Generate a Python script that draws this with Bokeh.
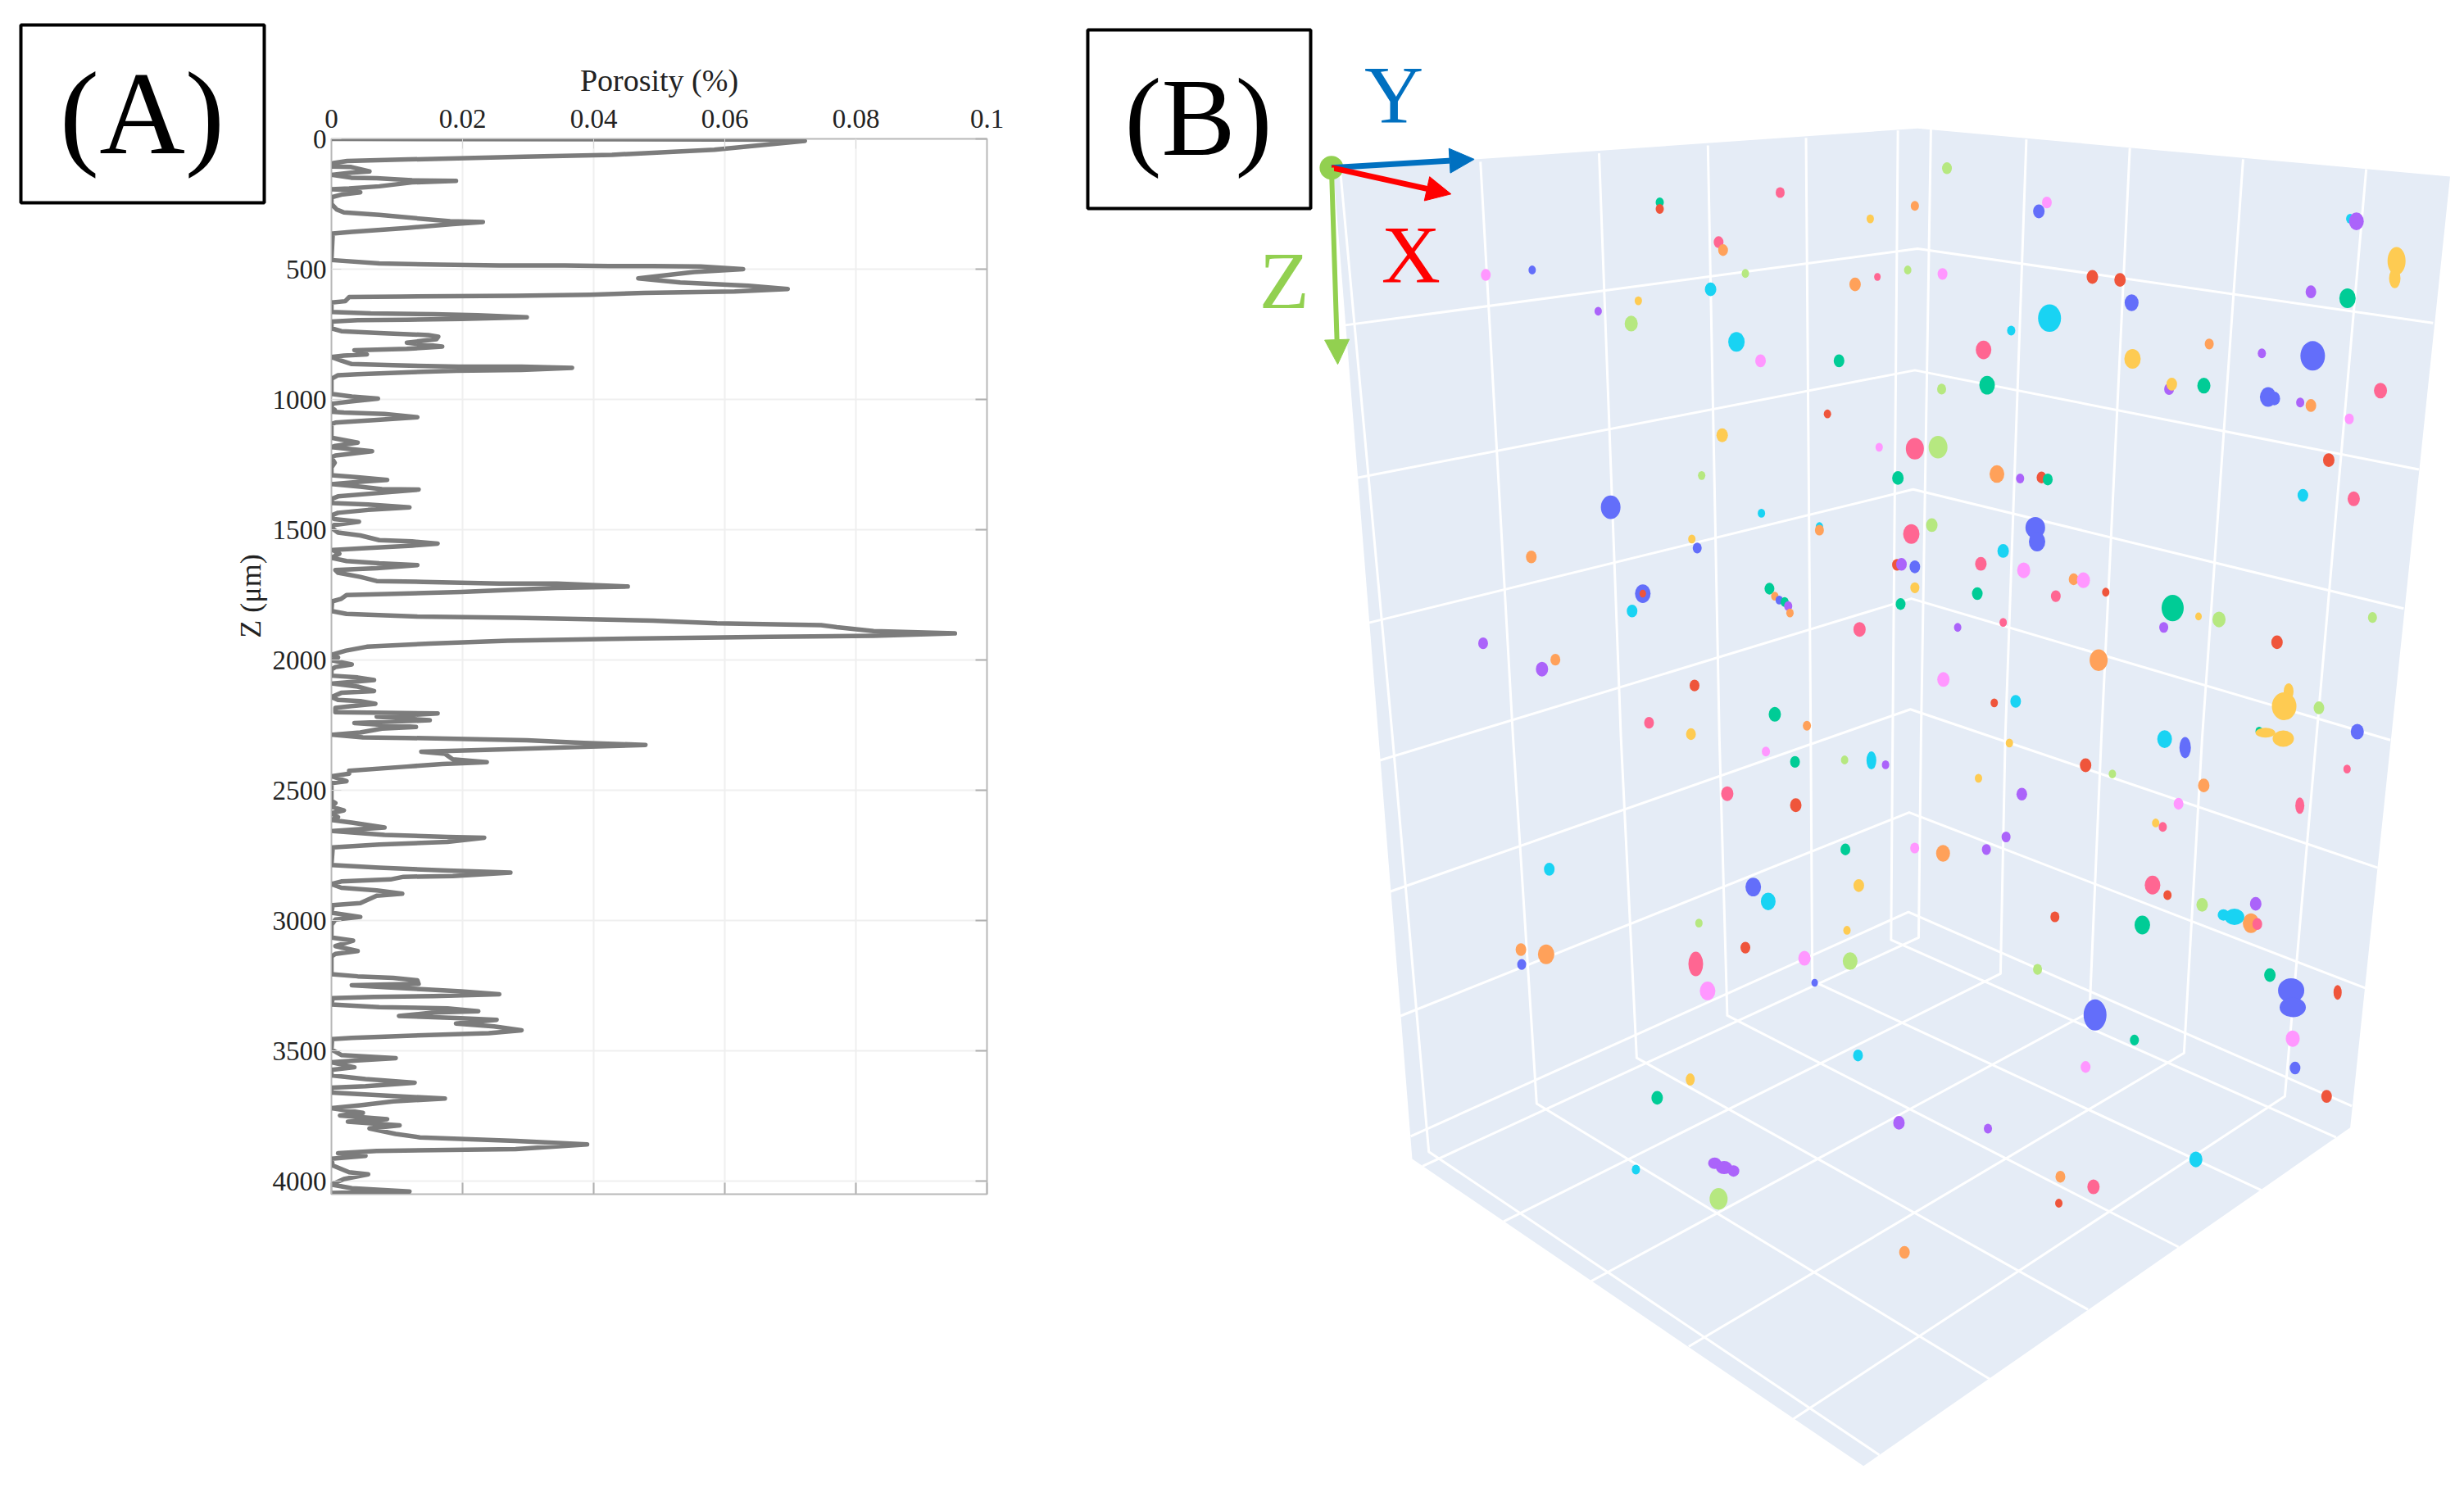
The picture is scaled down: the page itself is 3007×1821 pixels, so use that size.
import math
from bokeh.plotting import figure
from bokeh.layouts import row
from bokeh.models import (Range1d, LinearAxis, FixedTicker, Label, BoxAnnotation, Arrow, NormalHead)
from bokeh.embed import file_html
from bokeh.resources import INLINE

# ---------- Panel A data ----------
depth_um = [
 0,3,8,21,42,61,68,79,85,93,106,108,
 125,130,138,149,151,159,161,167,182,190,193,196,
 205,214,224,250,271,282,292,308,316,319,327,342,
 357,363,465,478,483,486,486,488,488,490,500,511,
 535,551,564,576,586,591,598,602,605,607,623,628,
 664,670,673,677,685,691,694,696,701,727,738,745,
 753,759,769,782,797,806,811,827,832,837,851,864,
 869,874,874,879,887,890,895,903,907,921,979,989,
 997,1008,1016,1031,1040,1047,1050,1056,1068,1079,1089,1094,
 1147,1166,1178,1183,1199,1215,1222,1243,1262,1291,1299,1309,
 1316,1325,1335,1344,1346,1358,1372,1382,1398,1403,1414,1424,
 1435,1445,1459,1469,1482,1493,1511,1522,1540,1545,1553,1561,
 1571,1578,1592,1608,1620,1629,1636,1648,1655,1665,1681,1697,
 1700,1707,1707,1718,1723,1739,1751,1765,1775,1812,1823,1833,
 1838,1844,1849,1859,1866,1874,1889,1898,1907,1911,1919,1926,
 1937,1949,1964,1980,1990,2001,2017,2027,2037,2060,2067,2077,
 2090,2102,2119,2126,2142,2153,2158,2168,2177,2184,2200,2205,
 2218,2231,2242,2257,2263,2278,2287,2297,2299,2308,2318,2326,
 2333,2343,2352,2360,2381,2392,2399,2409,2425,2436,2446,2465,
 2472,2540,2549,2563,2577,2588,2603,2614,2624,2643,2656,2671,
 2679,2682,2698,2708,2719,2787,2797,2808,2816,2829,2832,2842,
 2850,2860,2874,2884,2897,2905,2933,2941,2970,2986,2996,3017,
 3065,3077,3098,3117,3128,3138,3206,3214,3220,3229,3243,3248,
 3256,3264,3272,3283,3290,3293,3298,3322,3332,3337,3348,3353,
 3366,3374,3381,3395,3406,3421,3432,3442,3450,3455,3495,3516,
 3528,3537,3544,3563,3573,3594,3608,3622,3636,3641,3660,3673,
 3683,3694,3709,3720,3738,3748,3762,3772,3786,3798,3819,3832,
 3846,3859,3877,3884,3893,3903,3914,3940,3966,3974,3992,4013,
 4027,4040,4045,
]
porosity = [
 0,.072,.0722,.0667,.0584,.0428,.0294,.0117,.0024,.0003,0,.003,
 .0058,.003,0,.003,.0069,.0123,.019,.0123,.0073,.0027,0,.0027,
 .0044,.0015,0,0,.0008,.0019,.0073,.0144,.0181,.0231,.0185,.0115,
 .0031,.0002,0,.0073,.0165,.0256,.0356,.0423,.049,.0563,.0628,.0553,
 .0468,.0532,.0636,.0696,.0615,.0477,.0394,.0281,.0106,.0027,.0021,0,
 0,.006,.0156,.0223,.0298,.0198,.0115,.004,0,0,.0015,.0073,
 .0148,.0163,.016,.0115,.0169,.0115,.0035,.0054,.0019,0,.0015,.0031,
 .0094,.0194,.029,.0367,.029,.019,.0123,.004,.001,0,0,.0031,
 .0071,.0029,.0002,0,.0005,0,.0019,.0081,.0131,.0065,.0006,0,
 0,.004,.0006,0,.0062,.0006,0,.0005,0,0,.004,.0085,
 .0044,0,.0044,.0077,.0133,.0077,.001,0,.0002,.0056,.0119,.0056,
 .001,0,.0004,.0042,.0004,0,.001,.0044,.0073,.0123,.0162,.0123,
 .0052,.0002,.0012,0,.0023,.0073,.0131,.0069,.0006,.001,.0044,.0069,
 .014,.0256,.0344,.0452,.0344,.0198,.0023,.0015,.0001,0,.0023,.0131,
 .0281,.0406,.049,.0588,.0747,.0771,.0827,.0951,.0827,.0668,.0429,.0269,
 .015,.0054,.0022,0,.001,0,.0031,.0006,0,0,.004,.0065,
 .0002,.004,.0065,.0015,0,.001,.0044,.0067,.0031,.0006,.0006,.0162,
 .0069,.015,.0035,.0129,.0077,.0044,.0002,.0048,.0115,.0298,.0385,.0479,
 .0385,.0256,.0137,.0173,.0185,.0237,.0169,.0115,.0027,.0027,0,.0023,
 0,0,.0006,0,.0019,0,.001,0,.0031,.0081,.0002,.0081,
 .0177,.0233,.0177,.0073,.0002,0,.0073,.0177,.0273,.0185,.011,.009,
 .0015,0,.0015,.0069,.0108,.0069,.0044,.0002,0,.0044,.0006,0,
 0,.0033,.0006,.004,.0006,0,0,.004,.0094,.0131,.0133,.0031,
 .0085,.0142,.0198,.0256,.0156,.0065,.0002,0,.0073,.0177,.0224,.0156,
 .0103,.019,.0252,.019,.0248,.029,.024,.0115,.0031,.0001,0,.0015,
 .0098,.004,0,.0035,0,0,.0052,.0127,.0052,0,0,.009,
 .0173,.0094,.0044,0,.0048,.0013,.0085,.0025,.0104,.0058,.0098,.0135,
 .0281,.039,.0281,.0069,.001,.0052,0,.0002,.0027,.0056,.0019,0,
 .0031,.0119,0,
]
x_ticks = [0, 0.02, 0.04, 0.06, 0.08, 0.1]
x_tick_labels = ["0", "0.02", "0.04", "0.06", "0.08", "0.1"]
y_ticks = [0, 500, 1000, 1500, 2000, 2500, 3000, 3500, 4000]
x_title = "Porosity (%)"
y_title = "Z (\u03bcm)"

BLUE, RED, GREEN, PURPLE, ORANGE = "#636EFA", "#EF553B", "#00CC96", "#AB63FA", "#FFA15A"
CYAN, PINK, LIME, MAGENTA, YELLOW = "#19D3F3", "#FF6692", "#B6E880", "#FF97FF", "#FECB52"

upper_pores = [
 (988,338,12,LIME),(801,387,11,PINK),(666,407,10,GREEN),(666,420,10,RED),(1100,407,12,MAGENTA),(1091,425,14,BLUE),
 (952,414,10,ORANGE),(902,440,9,YELLOW),(1440,440,10,CYAN),(1447,445,18,PURPLE),(732,487,12,PINK),(737,503,12,ORANGE),
 (471,553,12,MAGENTA),(523,543,9,BLUE),(762,550,9,LIME),(944,543,9,LIME),(910,557,8,PINK),(885,572,14,ORANGE),
 (983,551,12,MAGENTA),(1151,557,14,RED),(1182,563,14,RED),(1396,587,13,PURPLE),(1437,600,20,GREEN),(1195,609,17,BLUE),
 (723,582,14,CYAN),(642,605,9,YELLOW),(597,626,9,PURPLE),(634,651,16,LIME),(1103,640,28,CYAN),(1060,665,10,CYAN),
 (752,688,20,CYAN),(779,726,13,MAGENTA),(867,726,13,GREEN),(1029,704,19,PINK),(1282,692,11,ORANGE),(1341,711,10,PURPLE),
 (1398,716,30,BLUE),(1196,722,20,YELLOW),(1237,783,12,PURPLE),(1240,773,13,YELLOW),(1276,776,16,GREEN),(1033,775,19,GREEN),
 (982,783,11,LIME),(1348,799,20,BLUE),(1355,802,14,BLUE),(1384,810,10,PURPLE),(1396,816,13,ORANGE),(1474,786,16,PINK),(1439,843,11,MAGENTA),
 (854,833,9,RED),(736,876,14,YELLOW),(912,900,9,MAGENTA),(952,903,22,PINK),(978,900,23,LIME),(1416,926,14,RED),
 (713,957,9,LIME),(933,962,14,GREEN),(1044,954,18,ORANGE),(1070,963,10,PURPLE),(1094,961,12,RED),(1101,965,12,GREEN),
 (1387,997,13,CYAN),(1444,1004,15,PINK),(611,1021,24,BLUE),(780,1033,9,CYAN),(845,1060,9,CYAN),(845,1067,11,ORANGE),(948,1075,20,PINK),
 (971,1057,14,LIME),(702,1085,9,YELLOW),(708,1103,11,BLUE),(522,1121,13,ORANGE),(1051,1109,14,CYAN),(1026,1135,14,PINK),
 (1074,1148,16,MAGENTA),(932,1137,12,RED),(937,1136,13,PURPLE),(952,1141,13,BLUE),(1130,1166,12,ORANGE),(1141,1168,16,MAGENTA),(1166,1192,9,RED),
 (647,1195,19,BLUE),(647,1195,8,RED),(635,1230,13,CYAN),(789,1185,12,GREEN),(795,1200,9,ORANGE),(800,1208,9,BLUE),
 (806,1212,10,GREEN),(810,1220,10,PURPLE),(812,1234,9,ORANGE),(952,1183,11,YELLOW),(1022,1195,13,GREEN),(936,1216,12,GREEN),
 (1110,1200,12,PINK),(1241,1224,27,GREEN),(1270,1241,8,YELLOW),(1293,1247,16,LIME),(1465,1243,11,LIME),(890,1267,15,PINK),
 (1051,1253,9,PINK),(1000,1263,9,PURPLE),(1231,1263,11,PURPLE),(1358,1293,14,RED),(468,1295,12,PURPLE),(549,1328,12,ORANGE),
 (534,1347,15,PURPLE),(1158,1329,22,ORANGE),(705,1380,12,RED),(984,1368,15,MAGENTA),(1041,1415,9,RED),(1065,1412,13,CYAN),
 (1405,1425,13,LIME),(654,1455,12,PINK),(795,1438,15,GREEN),(831,1461,10,ORANGE),(701,1478,12,YELLOW),(1448,1473,16,BLUE),
 (1232,1488,18,CYAN),(1058,1496,9,YELLOW),(785,1513,10,MAGENTA),(1338,1472,9,GREEN),
]
# elongated pores: centre x, centre y, width, height, colour
upper_blobs = [
 (1492,525,22,34,YELLOW),(1490,560,14,24,YELLOW),(1087,1062,24,26,BLUE),(1089,1090,20,24,BLUE),
 (1371,1392,12,20,YELLOW),(1366,1422,30,34,YELLOW),(1345,1475,24,12,YELLOW),(1365,1487,26,20,YELLOW),(1255,1505,14,26,BLUE),
]
lower_pores = [
 (718,50,12,GREEN),(781,46,9,LIME),(833,56,9,PURPLE),(1087,57,14,RED),(1121,75,9,LIME),(1419,65,9,PINK),(951,84,9,YELLOW),
 (1237,99,14,ORANGE),(632,116,15,PINK),(719,140,14,RED),(1006,117,13,PURPLE),(1205,137,12,MAGENTA),(1176,177,9,YELLOW),
 (1185,185,10,PINK),(782,232,12,GREEN),(870,229,11,MAGENTA),(906,240,17,ORANGE),(961,232,11,PURPLE),(986,206,11,PURPLE),
 (406,273,13,CYAN),(665,310,19,BLUE),(684,340,18,CYAN),(799,307,13,YELLOW),(1172,306,19,PINK),(1191,327,10,RED),
 (1235,347,14,LIME),(1303,345,14,PURPLE),(1297,385,20,ORANGE),(1305,387,12,PINK),(1048,372,11,RED),(1159,389,19,GREEN),
 (596,385,9,LIME),(784,400,9,YELLOW),(370,440,13,ORANGE),(402,450,20,ORANGE),(371,471,11,BLUE),(655,436,12,RED),
 (730,458,15,MAGENTA),(788,464,18,LIME),(1026,481,11,LIME),(743,509,8,BLUE),(607,526,19,MAGENTA),(1321,493,14,GREEN),
 (1149,628,11,GREEN),(798,660,12,CYAN),(1087,684,12,MAGENTA),(1353,686,13,BLUE),(543,748,14,GREEN),(1393,745,13,RED),
 (850,800,14,PURPLE),(963,812,10,PURPLE),(516,897,10,CYAN),(1227,876,16,CYAN),(1055,912,12,ORANGE),(1097,933,15,PINK),
 (1053,967,9,RED),(621,958,22,LIME),(857,1069,13,ORANGE),
]
lower_blobs = [
 (815,47,12,22,CYAN),(1359,141,11,20,PINK),(1262,368,14,14,CYAN),(1276,372,24,20,CYAN),(592,470,18,30,PINK),(1348,525,32,30,BLUE),(1350,560,32,24,BLUE),
 (1407,529,10,18,RED),(1099,576,28,38,BLUE),(1350,625,17,20,MAGENTA),(585,710,11,15,YELLOW),
 (616,884,16,14,PURPLE),(628,893,20,16,PURPLE),(640,900,14,14,PURPLE),
]

def up(x, y):      # upper crop to page pixels
    return 1300 + 1.0886 * x, 0.6059 * y
def lo(x, y):      # lower crop to page pixels
    return 1500 + 0.9611 * x, 900 + 0.5874 * y

wall_outline = [up(300,340), up(955,258), up(1552,355), lo(1423,810), lo(805,1513), lo(232,875)]

level_lines = [
 [up(310,655), up(955,500), up(1533,650)],
 [up(323,963), up(952,745), up(1517,945)],
 [up(337,1255), up(950,985), up(1500,1225)],
 [up(350,1532), up(948,1205), up(1485,1490)],
 [lo(203,320), up(947,1428), lo(1458,270)],
 [lo(217,578), lo(863,155), lo(1442,520)],
 [lo(230,828), lo(862,362), lo(1425,765)],
]
left_posts = [
 [up(308,345), lo(207,0), lo(253,860), lo(825,1490)],
 [up(465,325), lo(360,0), lo(390,760), lo(965,1332)],
 [up(598,308), lo(497,0), lo(517,665), lo(1090,1188)],
 [up(720,292), lo(622,0), lo(632,577), lo(1205,1058)],
 [up(830,277), lo(738,0), lo(740,505), lo(1310,940)],
 [up(933,262), lo(842,0), lo(840,420), lo(1405,830)],
]
right_posts = [
 [up(970,258), lo(878,0), lo(875,415), lo(245,890)],
 [up(1077,280), lo(985,0), lo(979,490), lo(348,1005)],
 [up(1193,297), lo(1107,0), lo(1092,570), lo(458,1130)],
 [up(1320,320), lo(1235,0), lo(1212,655), lo(583,1265)],
 [up(1458,340), lo(1380,0), lo(1340,745), lo(716,1415)],
]

FONT = "Liberation Serif"
INK = "#222222"

# ---------- Strip left of panel A: panel letter and rotated axis title ----------
p_c = figure(width=328, height=1805, x_range=Range1d(0, 328), y_range=Range1d(1805, 0),
             x_axis_location=None, y_axis_location=None, output_backend="svg", toolbar_location=None, min_border=0)
p_c.frame_align = False
p_c.grid.visible = False
p_c.outline_line_color = None
p_c.add_layout(BoxAnnotation(left=25, right=322, top=30, bottom=247, fill_color=None, fill_alpha=0,
                             line_color="black", line_width=4, line_alpha=1))
p_c.add_layout(Label(x=173, y=137, text="(A)", text_align="center", text_baseline="middle",
                     text_font=FONT, text_font_size="145px", text_color="black"))
p_c.add_layout(Label(x=305, y=727, text=y_title, angle=math.pi / 2, text_align="center", text_baseline="middle",
                     text_font=FONT, text_font_size="36px", text_color=INK))

# ---------- Panel A ----------
p_a = figure(width=972, height=1805, x_range=Range1d(0, 0.1), y_range=Range1d(4050, 0),
             x_axis_location="above", y_axis_location="left", output_backend="svg", toolbar_location=None,
             min_border_left=76, min_border_right=96, min_border_top=169, min_border_bottom=348)
p_a.frame_align = False
p_a.outline_line_color = "#b8b8b8"
p_a.outline_line_width = 2
p_a.line(porosity, depth_um, line_color="#7c7c7c", line_width=5.5, line_join="round")

xa, ya = p_a.xaxis[0], p_a.yaxis[0]
xa.ticker = FixedTicker(ticks=x_ticks)
xa.major_label_overrides = dict(zip(x_ticks, x_tick_labels))
ya.ticker = FixedTicker(ticks=y_ticks)
xa.axis_label = x_title
xa.axis_label_text_font = FONT
xa.axis_label_text_font_size = "38px"
xa.axis_label_text_font_style = "normal"
xa.axis_label_text_color = INK
xa.axis_label_standoff = 12
for ax in (xa, ya):
    ax.major_label_text_font = FONT
    ax.major_label_text_font_size = "33px"
    ax.major_label_text_color = INK
    ax.major_tick_in = 12
    ax.major_tick_out = 0
    ax.minor_tick_line_color = None
    ax.axis_line_color = "#b8b8b8"
    ax.major_tick_line_color = "#d8d8d8"
xa.major_label_standoff = 14
ya.major_label_standoff = 6
for side, tk in (("below", x_ticks), ("right", y_ticks)):
    extra = LinearAxis(ticker=FixedTicker(ticks=tk), major_label_text_color=None, major_label_text_font_size="1px",
                       major_tick_in=14, major_tick_out=0, minor_tick_line_color=None,
                       axis_line_color="#b8b8b8", major_tick_line_color="#b0b0b0", major_tick_line_width=2)
    p_a.add_layout(extra, side)
p_a.xgrid.ticker = FixedTicker(ticks=x_ticks)
p_a.ygrid.ticker = FixedTicker(ticks=y_ticks)
p_a.grid.grid_line_color = "#efefef"
p_a.grid.grid_line_width = 2

# ---------- Panel B ----------
p_b = figure(width=1699, height=1805, x_range=Range1d(1300, 2999), y_range=Range1d(1805, 0),
             x_axis_location=None, y_axis_location=None, output_backend="svg", toolbar_location=None,
             min_border=0)
p_b.frame_align = False
p_b.grid.visible = False
p_b.outline_line_color = None

p_b.patch([c[0] for c in wall_outline], [c[1] for c in wall_outline], fill_color="#E5ECF6", line_color=None)
all_lines = level_lines + left_posts + right_posts
p_b.multi_line([[c[0] for c in ln] for ln in all_lines], [[c[1] for c in ln] for ln in all_lines],
               line_color="white", line_width=3, line_join="round")

xs, ys, ws, hs, cs = [], [], [], [], []
for table, conv in ((upper_pores, up), (lower_pores, lo)):
    for x, y, d, col in table:
        u, v = conv(x, y)
        xs.append(u); ys.append(v); ws.append(d); hs.append(d * 1.2); cs.append(col)
for table, conv in ((upper_blobs, up), (lower_blobs, lo)):
    for x, y, w, h, col in table:
        u, v = conv(x, y)
        xs.append(u); ys.append(v); ws.append(w); hs.append(h); cs.append(col)
p_b.ellipse(xs, ys, width=ws, height=hs, fill_color=cs, line_color=None)

ox, oy = up(298, 337)
for tip, col, lw in ((up(458, 320), "#0070C0", 7), (up(432, 390), "#FF0000", 7), (up(305, 733), "#92D050", 6)):
    p_b.add_layout(Arrow(x_start=ox, y_start=oy, x_end=tip[0], y_end=tip[1], line_color=col, line_width=lw,
                         end=NormalHead(size=30, fill_color=col, line_color=col)))
p_b.scatter([ox], [oy], size=29, fill_color="#92D050", line_color=None)

for txt, at, col in (("Y", up(368, 190), "#0070C0"), ("X", up(387, 512), "#FF0000"), ("Z", up(245, 565), "#92D050")):
    p_b.add_layout(Label(x=at[0], y=at[1], text=txt, text_align="center", text_baseline="middle",
                         text_font=FONT, text_font_size="100px", text_color=col))
p_b.add_layout(BoxAnnotation(left=1327, right=1599, top=36, bottom=254, fill_color=None, fill_alpha=0,
                             line_color="black", line_width=4, line_alpha=1))
p_b.add_layout(Label(x=1462, y=143, text="(B)", text_align="center", text_baseline="middle",
                     text_font=FONT, text_font_size="135px", text_color="black"))

page = row(p_c, p_a, p_b, spacing=0)
open("out.html", "w").write(file_html(page, INLINE))
